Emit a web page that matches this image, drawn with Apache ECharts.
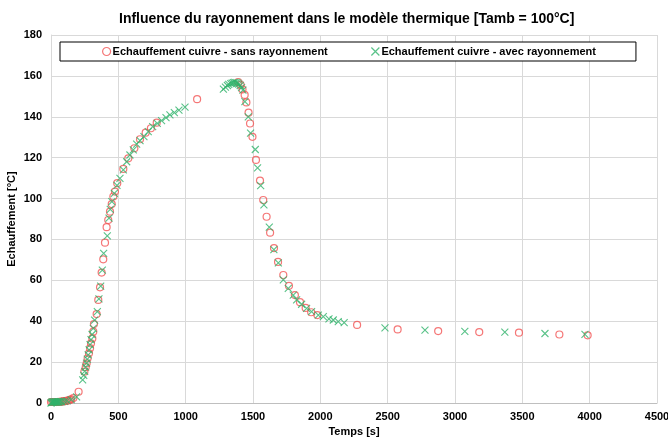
<!DOCTYPE html>
<html>
<head>
<meta charset="utf-8">
<script src="https://cdn.jsdelivr.net/npm/echarts@6/dist/echarts.min.js"></script>
<style>
  html, body { margin: 0; padding: 0; background: #fff; }
  #chart { width: 668px; height: 441px; }
</style>
</head>
<body>
<div id="chart"></div>
<script>
// sans rayonnement
var sansTemps = [0, 10, 20, 30, 40, 50, 60, 70, 80, 90, 100, 110, 120, 130, 140, 150, 166, 205,
  248, 258, 265, 272, 282, 290, 297, 307, 314, 319, 339, 351, 364, 376, 388, 401, 413, 425, 438,
  451, 463, 475, 492, 537, 574, 619, 661, 703, 742, 785, 1085,
  1390, 1408, 1422, 1438, 1451, 1467, 1478, 1496, 1522, 1552, 1576, 1601, 1627, 1656, 1686,
  1725, 1767, 1811, 1849, 1891, 1932, 1978, 2273, 2574, 2875, 3180, 3475, 3775, 3985];
var sansEch = [0.5, 0.5, 0.5, 0.5, 0.5, 0.5, 0.6, 0.6, 0.7, 0.8, 0.9, 1.0, 1.1, 1.3, 1.5, 1.8, 2.4, 5.5,
  15.3, 17.5, 19.4, 21.9, 24.3, 26.8, 29.2, 31.6, 34.9, 38.6, 43.5, 50.4, 56.6, 63.8, 70.3, 78.4, 86, 89.5, 93.6,
  97.3, 101, 103.4, 107.5, 114.5, 119.7, 124.6, 129, 132.2, 134.4, 137.1, 148.6,
  157, 155.6, 153.4, 150.7, 147, 142, 136.7, 130.2, 118.9, 108.8, 99.3, 91.1, 83.3, 75.8, 69,
  62.6, 57.3, 52.8, 49.3, 46.5, 44.4, 43, 38.2, 36, 35.2, 34.7, 34.4, 33.5, 33.1];

// avec rayonnement
var avecTemps = [0, 5, 10, 15, 20, 25, 30, 35, 40, 45, 50, 55, 60, 70, 80, 100, 120, 150, 190,
  235, 243, 250, 257, 264, 270, 276, 283, 290, 297, 305, 314, 324, 344, 356, 369, 381, 391,
  418, 431, 440, 452, 470, 490, 512, 537, 562, 586, 611, 636, 661, 690, 722, 755, 789, 821,
  854, 883, 916, 950, 995,
  1280, 1295, 1310, 1320, 1335, 1345, 1355, 1365, 1375, 1385, 1395, 1405, 1415, 1425,
  1440, 1465, 1482, 1517, 1534, 1557, 1581, 1621, 1655, 1688, 1725, 1762, 1799, 1824, 1861,
  1898, 1935, 1985, 2022, 2064, 2096, 2133, 2177, 2480, 2777, 3073, 3370, 3668, 3965];
var avecEch = [0, 0.3, 0.5, 0.3, 0.5, 0.4, 0.6, 0.5, 0.4, 0.6, 0.5, 0.5, 0.6, 0.7, 0.6, 0.8, 1, 1.6, 3,
  11.3, 13.5, 15.5, 17.5, 19.5, 21.5, 23.5, 26, 28.5, 31, 33.5, 36.5, 40.5, 44.7, 50.9, 57.2, 65, 73.2,
  81.7, 90.4, 94.7, 98.5, 102.5, 106.5, 109.9, 114, 118, 121.3, 123.8, 126.6, 128.3, 130.3, 132.7, 135.2, 136.8, 138.1,
  139.6, 140.9, 142, 143.3, 144.7,
  153.5, 154.5, 155.3, 155.8, 156.2, 156.5, 156.7, 156.8, 156.7, 156.5, 156, 155.3, 154.3, 153,
  147.4, 140, 132, 124, 115, 106.3, 96.9, 86, 75, 68.5, 60.2, 56.1, 52.8, 50.4, 48.3,
  46.3, 44.7, 43, 42.2, 41.1, 40.6, 39.8, 39.3, 36.8, 35.6, 35, 34.7, 34, 33.6];

var seriesNames = ["Echauffement cuivre - sans rayonnement", "Echauffement cuivre - avec rayonnement"];

function zip(xs, ys) {
  return xs.map(function (x, i) { return [x, ys[i]]; });
}

var font = "Liberation Sans, Arial, sans-serif";
var red = "#f25555";
var green = "#2fb36a";
var crossPath = "path://M0,0L10,10M10,0L0,10";

var chart = echarts.init(document.getElementById("chart"), null, { renderer: "canvas" });
chart.setOption({
  animation: false,
  backgroundColor: "#fff",
  title: {
    text: "Influence du rayonnement dans le modèle thermique [Tamb = 100°C]",
    left: 114,
    top: 7,
    textStyle: { fontFamily: font, fontSize: 14, fontWeight: "bold", color: "#000" },
  },
  legend: {
    left: 60,
    top: 42,
    padding: [4, 40, 4, 42],
    itemGap: 43,
    itemWidth: 8,
    itemHeight: 8,
    backgroundColor: "#fff",
    borderColor: "#000",
    borderWidth: 1,
    textStyle: { fontFamily: font, fontSize: 11, fontWeight: "bold", color: "#000", padding: [0, 0, 0, -3] },
    data: [
      { name: seriesNames[0], icon: "circle", itemStyle: { color: "rgba(0,0,0,0)", borderColor: red, borderWidth: 1.2 } },
      { name: seriesNames[1], icon: crossPath, itemStyle: { color: green, borderColor: green, borderWidth: 1.2 } },
    ],
  },
  grid: { left: 51, right: 11, top: 35, bottom: 38, outerBoundsMode: "none" },
  xAxis: {
    type: "value",
    min: 0,
    max: 4500,
    interval: 500,
    name: "Temps [s]",
    nameLocation: "middle",
    nameGap: 23,
    nameTextStyle: { fontFamily: font, fontSize: 11, fontWeight: "bold", color: "#000" },
    axisLine: { lineStyle: { color: "#bfbfbf" } },
    axisTick: { show: false },
    axisLabel: {
      fontFamily: font, fontSize: 11, fontWeight: "bold", color: "#000", margin: 8,
      formatter: function (v) { return String(v); },
    },
    splitLine: { lineStyle: { color: "#d9d9d9" } },
  },
  yAxis: {
    type: "value",
    min: 0,
    max: 180,
    interval: 20,
    name: "Echauffement [°C]",
    nameLocation: "middle",
    nameGap: 34,
    nameMoveOverlap: false,
    nameTextStyle: { fontFamily: font, fontSize: 11, fontWeight: "bold", color: "#000" },
    axisLine: { show: true, lineStyle: { color: "#d9d9d9" } },
    axisTick: { show: false },
    axisLabel: { fontFamily: font, fontSize: 11, fontWeight: "bold", color: "#000", margin: 9 },
    splitLine: { lineStyle: { color: "#d9d9d9" } },
  },
  series: [
    {
      name: seriesNames[0],
      type: "scatter",
      symbol: "circle",
      symbolSize: 7,
      itemStyle: { color: "rgba(0,0,0,0)", borderColor: red, borderWidth: 1.2 },
      data: zip(sansTemps, sansEch),
    },
    {
      name: seriesNames[1],
      type: "scatter",
      symbol: crossPath,
      symbolSize: 7,
      itemStyle: { color: green, borderColor: green, borderWidth: 1.1 },
      data: zip(avecTemps, avecEch),
    },
  ],
});
</script>
</body>
</html>
